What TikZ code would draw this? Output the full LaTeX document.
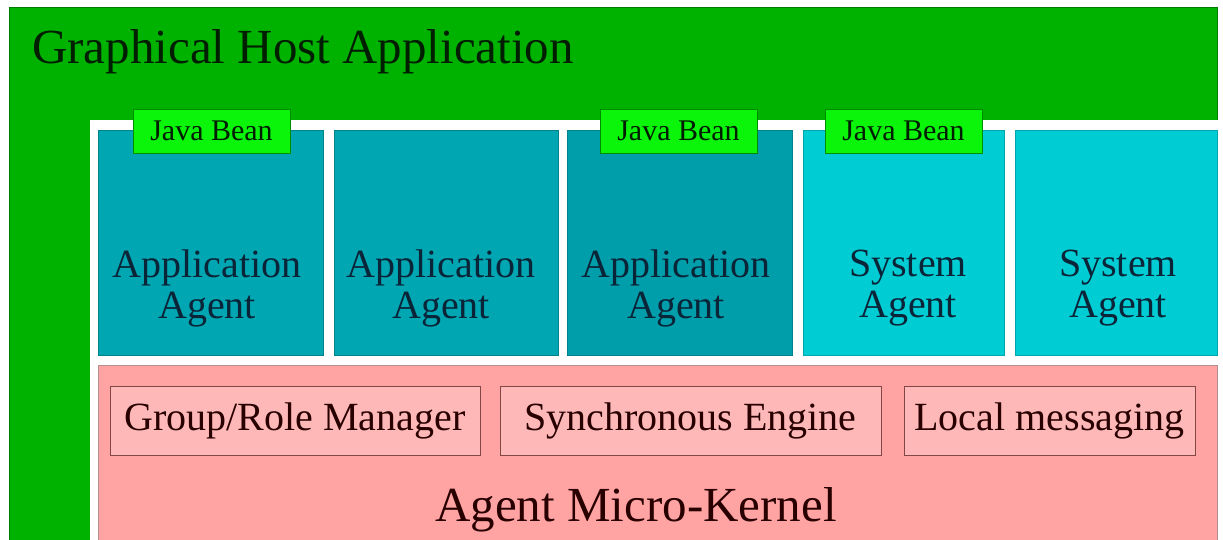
\documentclass[tikz,border=0pt]{standalone}
\usepackage{fontspec}
\setmainfont{Liberation Serif}
\definecolor{hostgreen}{RGB}{0,178,0}
\definecolor{hostedge}{RGB}{0,125,0}
\definecolor{beangreen}{RGB}{10,245,10}
\definecolor{beanedge}{RGB}{0,140,0}
\definecolor{appteal}{RGB}{0,166,178}
\definecolor{appdark}{RGB}{0,158,170}
\definecolor{appedge}{RGB}{0,130,140}
\definecolor{syscyan}{RGB}{0,204,212}
\definecolor{sysedge}{RGB}{0,165,175}
\definecolor{kernelpink}{RGB}{255,163,163}
\definecolor{modpink}{RGB}{255,184,184}
\definecolor{modedge}{RGB}{130,70,70}
\definecolor{hosttext}{RGB}{0,30,0}
\definecolor{agenttext}{RGB}{10,36,56}
\definecolor{kerneltext}{RGB}{40,0,0}
\tikzset{
  boxat/.style={anchor=north west, inner sep=0pt, outer sep=0pt},
  agentbox/.style={boxat, draw=appedge, line width=0.8pt, fill=appteal},
  sysbox/.style={boxat, draw=sysedge, line width=0.8pt, fill=syscyan},
  beantab/.style={boxat, draw=beanedge, line width=0.8pt, fill=beangreen,
    text=hosttext, font=\fontsize{30}{32}\selectfont},
  agentlabel/.style={align=center, text=agenttext, inner sep=0pt,
    font=\fontsize{40}{41}\selectfont},
  module/.style={boxat, draw=modedge, line width=0.8pt, fill=modpink,
    text=kerneltext, font=\fontsize{40}{42}\selectfont}
}
\begin{document}
\begin{tikzpicture}[x=1pt,y=-1pt]
\useasboundingbox (0,0) rectangle (1223,539);
\clip (0,0) rectangle (1223,539);
\fill[white] (0,0) rectangle (1223,539);
% host application frame
\node[boxat, draw=hostedge, line width=0.8pt, fill=hostgreen,
  minimum width=1208pt, minimum height=560pt] (host) at (9,7) {};
\node[boxat, fill=white, minimum width=1140pt, minimum height=430pt] (inner) at (90,120) {};
\node[anchor=base west, inner sep=0pt, text=hosttext,
  font=\fontsize{49}{52}\selectfont] (hostlabel) at (32,63) {Graphical Host Application};
% agents
\node[agentbox, minimum width=225pt, minimum height=225pt] (a1) at (98,130) {};
\node[agentbox, minimum width=224pt, minimum height=225pt] (a2) at (334,130) {};
\node[agentbox, fill=appdark, minimum width=225pt, minimum height=225pt] (a3) at (567,130) {};
\node[sysbox, minimum width=201pt, minimum height=225pt] (s1) at (803,130) {};
\node[sysbox, minimum width=202pt, minimum height=225pt] (s2) at (1015,130) {};
\node[agentlabel] (a1t) at (207,288) {Application\\Agent};
\node[agentlabel] (a2t) at (441,288) {Application\\Agent};
\node[agentlabel] (a3t) at (676,288) {Application\\Agent};
\node[agentlabel] (s1t) at (908,288) {System\\Agent};
\node[agentlabel] (s2t) at (1118,288) {System\\Agent};
% java bean tabs
\node[beantab, minimum width=157pt, minimum height=44pt] (b1) at (133,109) {Java Bean};
\node[beantab, minimum width=157pt, minimum height=44pt] (b2) at (600,109) {Java Bean};
\node[beantab, minimum width=157pt, minimum height=44pt] (b3) at (825,109) {Java Bean};
% micro-kernel
\node[boxat, draw=modedge!60, line width=0.8pt, fill=kernelpink,
  minimum width=1119pt, minimum height=200pt] (kernel) at (98,365) {};
\node[module, minimum width=370pt, minimum height=69pt] (grm) at (110,386) {Group/Role Manager};
\node[module, minimum width=381pt, minimum height=69pt] (sync) at (500,386) {Synchronous Engine};
\node[module, minimum width=291pt, minimum height=69pt] (msg) at (904,386) {Local messaging};
\node[anchor=base, inner sep=0pt, text=kerneltext,
  font=\fontsize{49}{52}\selectfont] (kernellabel) at (636,521) {Agent Micro-Kernel};
\end{tikzpicture}
\end{document}
